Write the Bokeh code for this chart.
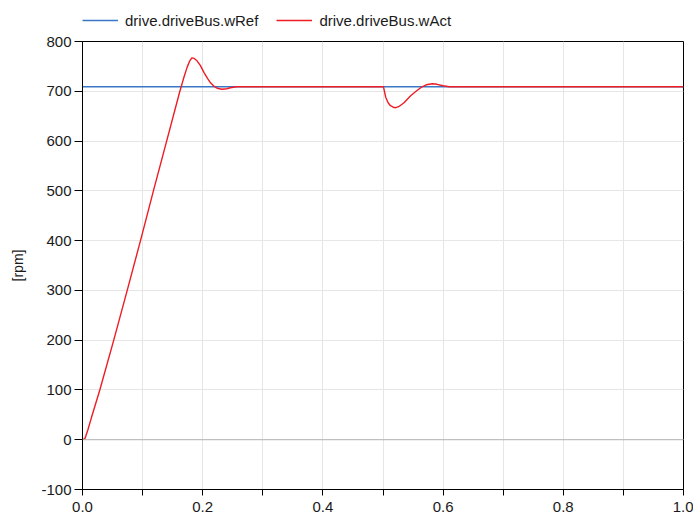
from bokeh.plotting import figure
from bokeh.layouts import column
from bokeh.models import Legend, LegendItem, Span, FixedTicker
from bokeh.embed import file_html
from bokeh.resources import INLINE

# reference speed
t_ref = [0.0, 1.0]
w_ref = [709, 709]

# actual speed
t_act = [0.0, 0.004, 0.009, 0.015, 0.0288, 0.052, 0.0744, 0.0965, 0.118, 0.14,
         0.162, 0.168, 0.174, 0.178, 0.182, 0.186, 0.19, 0.196, 0.202, 0.208,
         0.213, 0.218, 0.224, 0.232, 0.24, 0.246, 0.256, 0.5, 0.501, 0.5045,
         0.5085, 0.5125, 0.517, 0.521, 0.526, 0.535, 0.546, 0.556, 0.565, 0.572,
         0.582, 0.59, 0.6, 0.61, 1.0]
w_act = [0, 2, 20, 45, 100, 200, 300, 400, 500, 600,
         700, 725, 748, 760, 767, 766, 762, 752, 738, 726,
         717, 711, 706, 704, 705, 707, 709, 709, 708, 688,
         677, 671, 668, 667, 669, 677, 691, 701, 709, 713,
         715, 714, 711, 709, 709]

x_ticks = [0.0, 0.2, 0.4, 0.6, 0.8, 1.0]
x_minor = [0.1, 0.3, 0.5, 0.7, 0.9]
x_labels = {0.0: "0.0", 0.2: "0.2", 0.4: "0.4", 0.6: "0.6", 0.8: "0.8", 1.0: "1.0"}
y_ticks = [-100, 0, 100, 200, 300, 400, 500, 600, 700, 800]
y_labels = {-100: "-100"}

FONT = "Liberation Sans"
TXT = "#1a1a1a"
BLUE = "#3a78c6"
RED = "#ee1c25"

p = figure(width=693, height=486, output_backend="svg", toolbar_location=None,
           x_range=(0, 1), y_range=(-100, 800),
           min_border_left=82, min_border_right=10, min_border_top=10, min_border_bottom=28)

p.outline_line_color = "black"
p.outline_line_width = 1

p.xaxis.ticker = FixedTicker(ticks=x_ticks, minor_ticks=x_minor)
p.xaxis.major_label_overrides = x_labels
p.yaxis.ticker = FixedTicker(ticks=y_ticks, minor_ticks=[])
p.yaxis.major_label_overrides = y_labels
p.xgrid.grid_line_color = "#e6e6e6"
p.xgrid.minor_grid_line_color = "#e6e6e6"
p.ygrid.grid_line_color = "#e6e6e6"

zero = Span(location=0, dimension="width", line_color="#b4b4b4", line_width=1)
p.add_layout(zero)

for ax in (p.xaxis, p.yaxis):
    ax.axis_line_color = "black"
    ax.major_tick_line_color = "black"
    ax.minor_tick_line_color = "black"
    ax.major_tick_in = 0
    ax.minor_tick_in = 0
    ax.major_label_text_font = FONT
    ax.major_label_text_font_size = "15px"
    ax.major_label_text_color = TXT

p.xaxis.major_tick_out = 6
p.xaxis.minor_tick_out = 6
p.xaxis.major_label_standoff = 6
p.yaxis.major_tick_out = 8
p.yaxis.minor_tick_out = 0
p.yaxis.major_label_standoff = 3

p.yaxis.axis_label = "[rpm]"
p.yaxis.axis_label_text_font = FONT
p.yaxis.axis_label_text_font_size = "14px"
p.yaxis.axis_label_text_font_style = "normal"
p.yaxis.axis_label_text_color = TXT
p.yaxis.axis_label_standoff = 12

p.line(t_ref, w_ref, line_color=BLUE, line_width=1.4)
p.line(t_act, w_act, line_color=RED, line_width=1.4)

# legend strip above the plot (its frame is aligned with the main frame)
lg = figure(width=693, height=31, output_backend="svg", toolbar_location=None,
            x_range=(0, 1), y_range=(0, 1), min_border=0,
            min_border_left=82, min_border_right=10)
lg.axis.visible = False
lg.grid.visible = False
lg.outline_line_color = None
l1 = lg.line(t_ref, [-5, -5], line_color=BLUE, line_width=1.4)
l2 = lg.line(t_ref, [-5, -5], line_color=RED, line_width=1.4)
legend = Legend(items=[LegendItem(label="drive.driveBus.wRef", renderers=[l1]),
                       LegendItem(label="drive.driveBus.wAct", renderers=[l2])],
                orientation="horizontal", location=(0, 1),
                padding=0, margin=0, spacing=18, glyph_width=36, glyph_height=20,
                label_height=20, label_standoff=7, label_text_font=FONT,
                label_text_font_size="15px", label_text_color=TXT,
                border_line_color=None, background_fill_alpha=0)
lg.add_layout(legend, "center")

layout = column(lg, p, spacing=0)
open("out.html", "w").write(file_html(layout, INLINE))
